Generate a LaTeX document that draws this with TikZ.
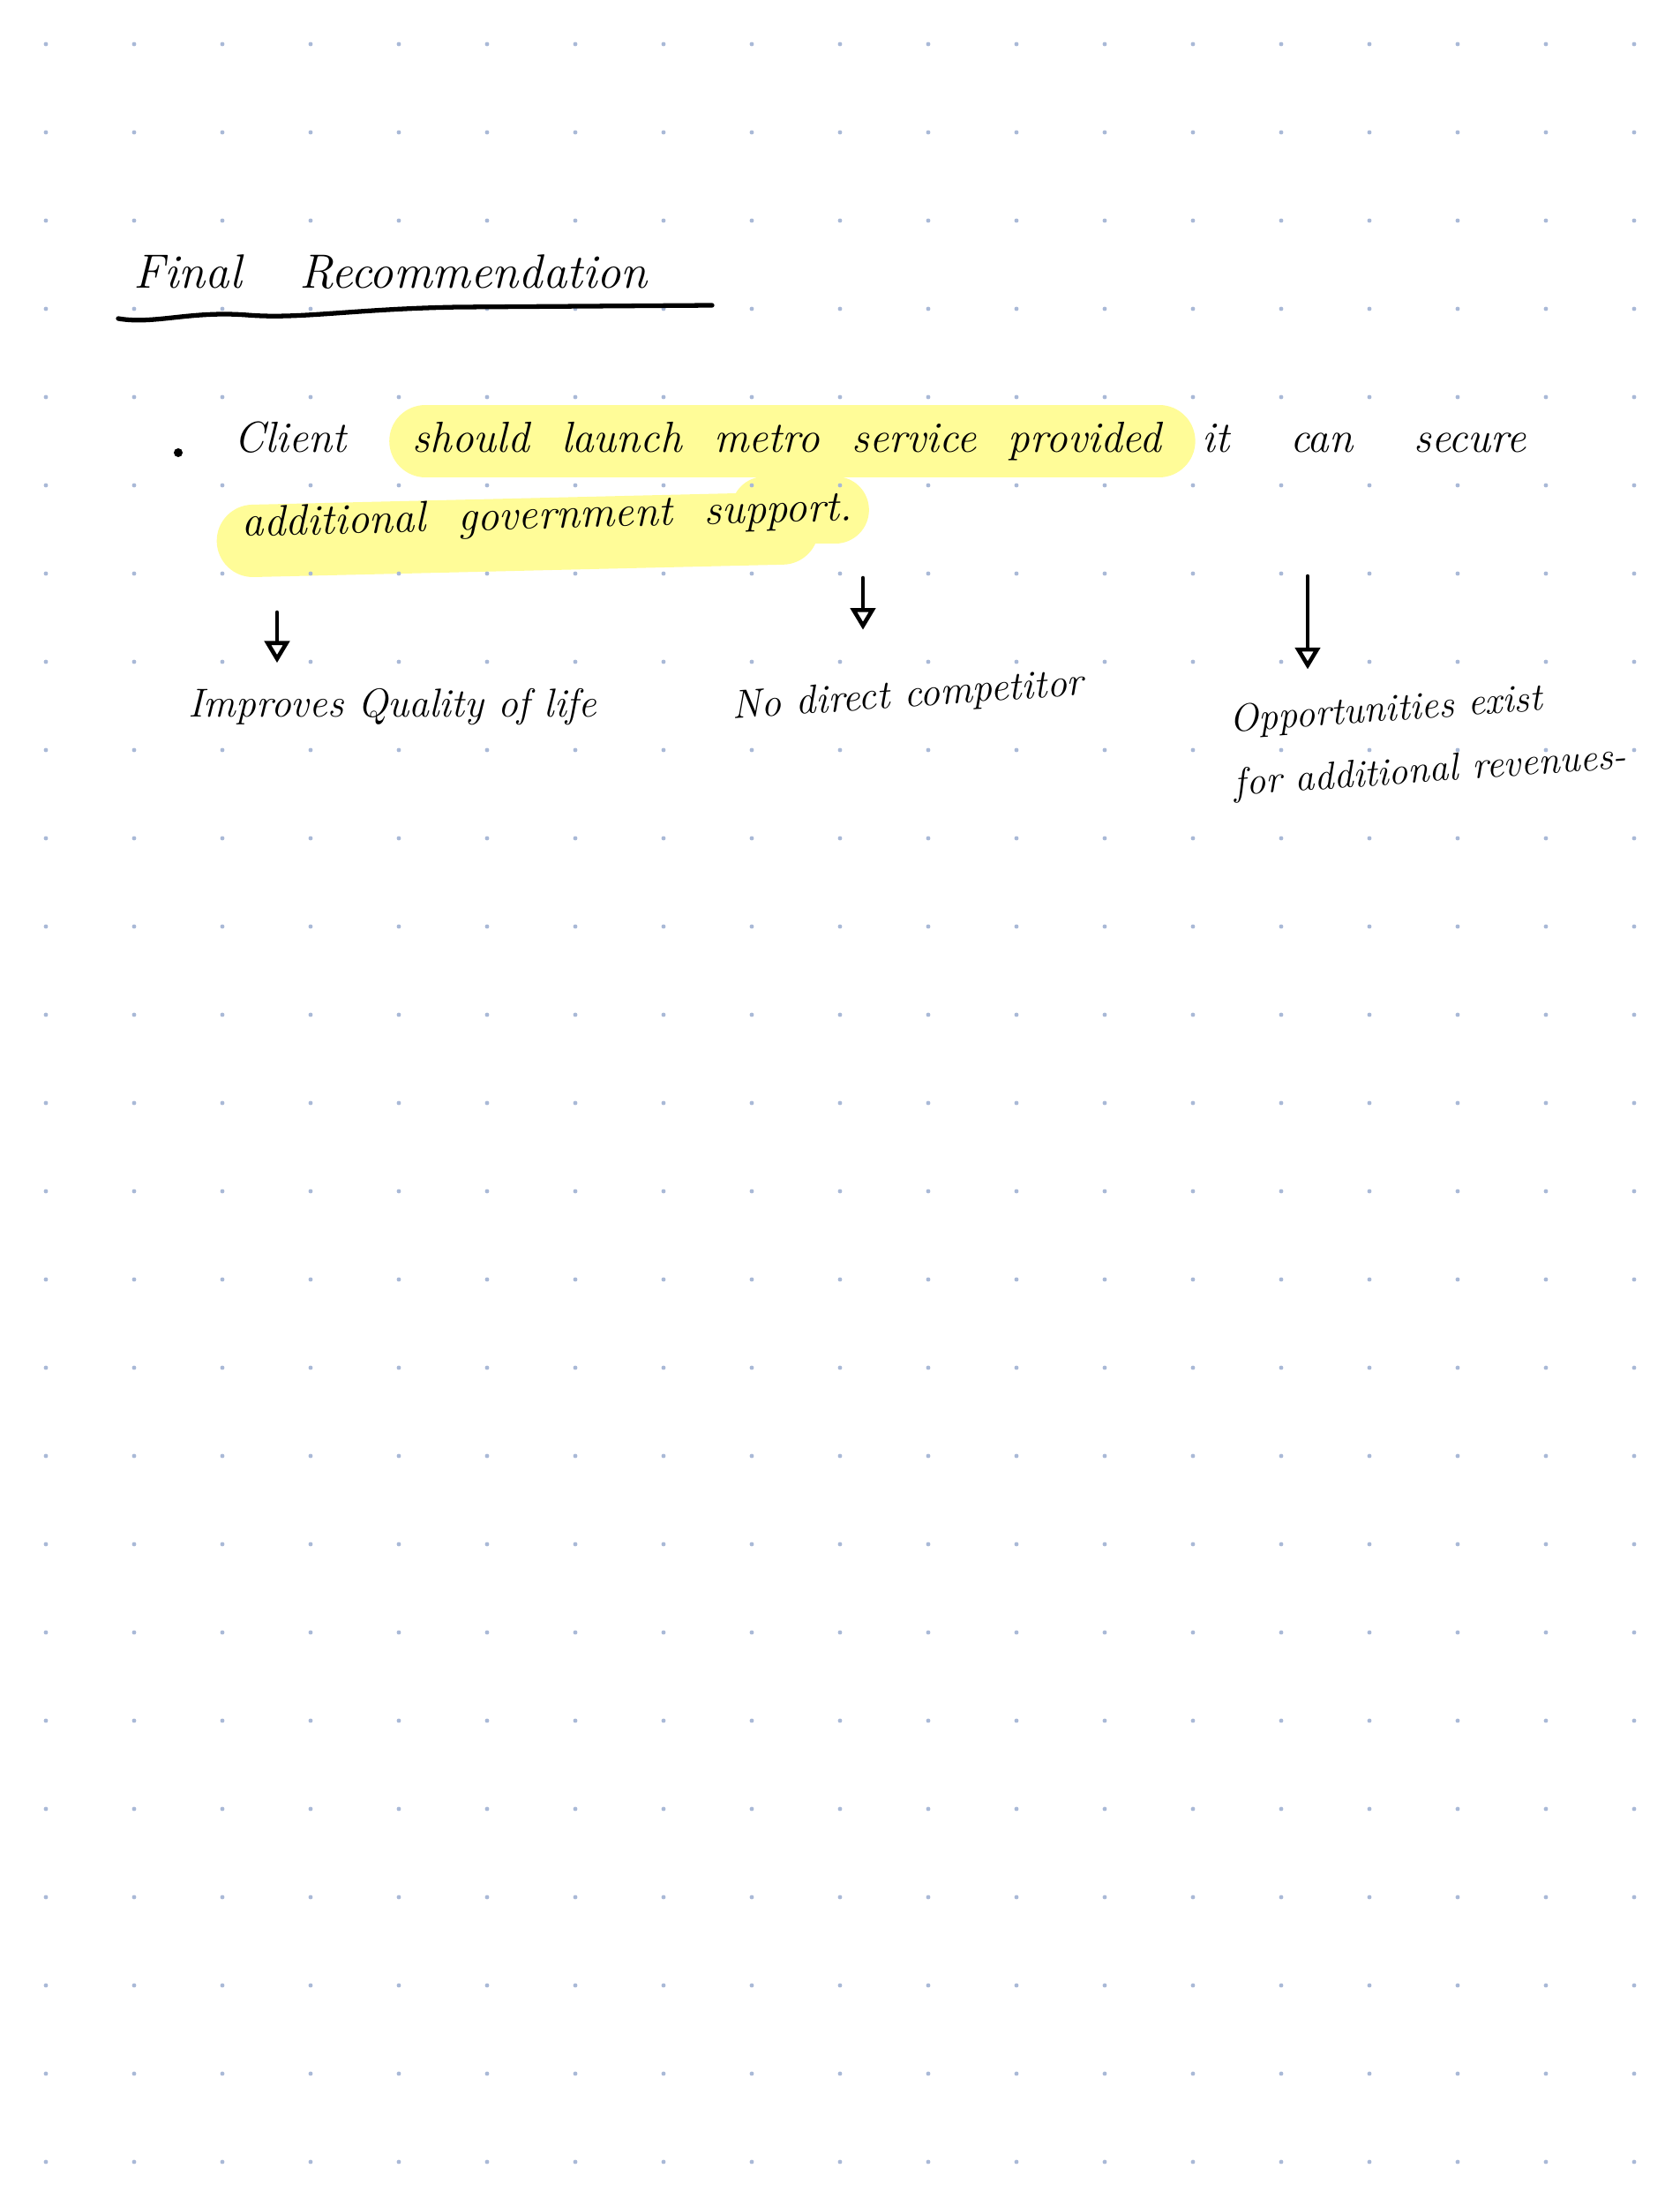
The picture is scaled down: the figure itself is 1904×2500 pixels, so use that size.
\documentclass[tikz,border=0pt]{standalone}
\usepackage{fontspec}
\usepackage{tikz}
\usetikzlibrary{positioning,arrows.meta,backgrounds}

\definecolor{dotblue}{HTML}{A9B9D7}
\definecolor{penyellow}{HTML}{FFFC98}

\newcommand{\handfont}{\fontsize{13}{20.5}\selectfont\itshape}
\newcommand{\bigfont}{\fontsize{14}{20.5}\selectfont\itshape}
\newcommand{\widefont}{\bigfont\spaceskip=0.74em\relax}
\newcommand{\widerfont}{\bigfont\spaceskip=1.4em\relax}
\newcommand{\titlefont}{\fontsize{15.5}{19}\selectfont\itshape\spaceskip=1.2em\relax}

\begin{document}
\begin{tikzpicture}[x=0.01cm, y=-0.01cm, >={Triangle[open,length=7pt,width=8pt]}]
  \tikzset{hand/.style={font=\handfont, inner sep=0pt, anchor=base west}}
  \tikzset{wide/.style={hand, font=\widefont}}
  \tikzset{pen/.style={line width=1.3pt, line cap=round, line join=round}}
  \tikzset{highlight/.style={draw=penyellow, line width=0.82cm, line cap=round}}

  \useasboundingbox (0,0) rectangle (1904,2500);

  % dotted paper
  \foreach \i in {0,...,18}
    \foreach \j in {0,...,24}
      \fill[dotblue] (52+100*\i, 50+100*\j) circle[radius=2.4];

  \node[hand, font=\titlefont] (title) at (151,327) {Final Recommendation};
  \draw[pen, line width=1.5pt] (134,361) .. controls (175,368) and (215,352) .. (280,357)
    .. controls (340,362) and (400,350) .. (520,348) -- (807,346);

  \node[circle, fill, inner sep=0pt, minimum size=0.1cm] (bullet) at (202,513) {};
  \node[hand, font=\bigfont] (client) at (265,512) {Client};
  \node[wide, base right=7.4mm of client] (launch) {should launch metro service provided};
  \node[hand, font=\widerfont, base right=4.5mm of launch] (secure) {it can secure};
  \node[wide, rotate=1.5] (extra) at (274,608) {additional government support.};

  \node[hand] (quality) at (213,812) {Improves Quality of life};
  \node[hand, rotate=4] (rival) at (830,815) {No direct competitor};
  \node[hand, font=\fontsize{12.5}{20.5}\selectfont\itshape, anchor=north west, align=left, rotate=4]
    (revenue) at (1392,798) {Opportunities exist\\for additional revenues-};

  \coordinate (a1) at (314,694);
  \coordinate (a2) at (978,655);
  \coordinate (a3) at (1482,653);
  \draw[pen, ->, shorten >=2.8mm] (a1) -- (a1 |- quality.north);
  \draw[pen, ->, shorten >=5.5mm] (a2) -- (a2 |- rival.north);
  \draw[pen, ->, shorten >=2.4mm] (a3) -- (a3 |- revenue.north);

  \begin{scope}[on background layer]
    \fill[white] (0,0) rectangle (1904,2500);
    \draw[highlight] ([xshift=1.5mm]launch.west) -- ([xshift=-0.3mm]launch.east);
    \draw[highlight] ([xshift=1.3mm, yshift=-1.7mm]extra.west) -- ([xshift=-8mm, yshift=-2.1mm]extra.east);
    \draw[highlight, line width=0.76cm] ([xshift=-10mm]extra.east) -- ([xshift=-2mm]extra.east);
  \end{scope}
\end{tikzpicture}
\end{document}
